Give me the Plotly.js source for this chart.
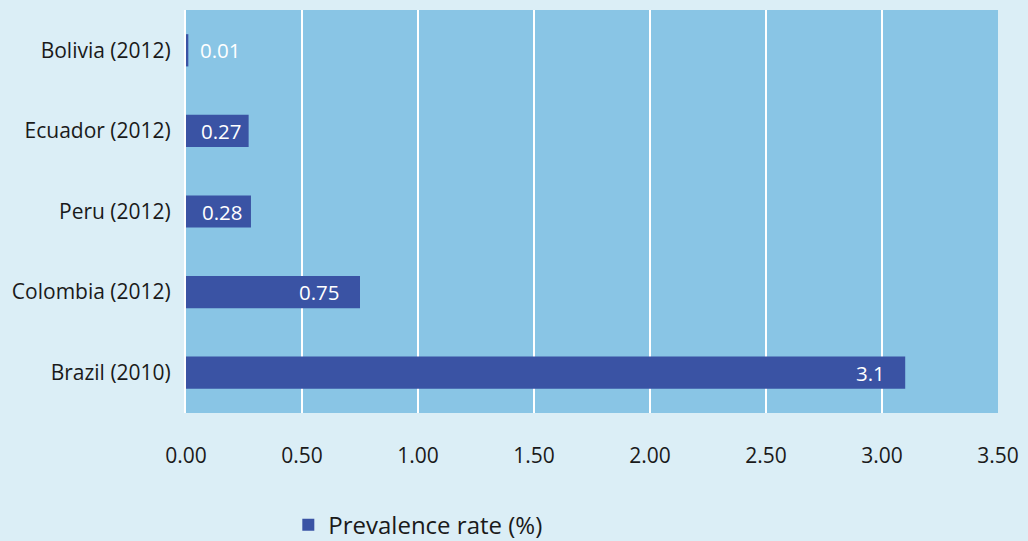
<!DOCTYPE html>
<html>
<head>
<meta charset="utf-8">
<script src="https://cdn.plot.ly/plotly-3.0.1.min.js"></script>
<style>
  html, body { margin: 0; padding: 0; background: #DBEEF6; }
  #chart { width: 1028px; height: 541px; }
</style>
</head>
<body>
<div id="chart"></div>
<script>
// Prevalence rate by country (survey year in brackets)
const countries = ["Brazil (2010)", "Colombia (2012)", "Peru (2012)", "Ecuador (2012)", "Bolivia (2012)"];
const prevalence = [3.1, 0.75, 0.28, 0.27, 0.01];
const labels = ["3.1", "0.75", "0.28", "0.27", "0.01"];
const xTicks = [0, 0.5, 1, 1.5, 2, 2.5, 3, 3.5];
const xTickText = ["0.00", "0.50", "1.00", "1.50", "2.00", "2.50", "3.00", "3.50"];

const FONT = "'Open Sans', Lato, sans-serif";

// Value labels: at the bar end for long bars, centred for short ones,
// and just past the end where the bar is too thin to hold text.
const annotations = prevalence.map((v, i) => {
  let a = { x: v, y: countries[i], xref: "x", yref: "y", showarrow: false,
            text: labels[i], font: { family: FONT, size: 20.5, color: "#ffffff" } };
  if (v >= 0.5) { a.xanchor = "right"; a.xshift = -18; }
  else if (v >= 0.1) { a.x = v / 2; a.xanchor = "center"; a.xshift = 4; }
  else { a.xanchor = "left"; a.xshift = 10; }
  return a;
});

const trace = {
  type: "bar",
  orientation: "h",
  x: prevalence,
  y: countries,
  name: "Prevalence rate (%)",
  marker: { color: "#3A53A4", line: { width: 0 } },
  width: 0.4,
  hoverinfo: "x+y"
};

const layout = {
  width: 1028,
  height: 541,
  paper_bgcolor: "#DBEEF6",
  plot_bgcolor: "#89C5E5",
  margin: { l: 186, r: 30, t: 10, b: 128, autoexpand: false },
  font: { family: FONT, size: 21, color: "#1a1a1a" },
  xaxis: {
    range: [0, 3.5],
    tickvals: xTicks,
    ticktext: xTickText,
    showgrid: true,
    gridcolor: "#ffffff",
    gridwidth: 1.5,
    zeroline: false,
    showline: false,
    ticks: "outside",
    ticklen: 24,
    tickcolor: "rgba(0,0,0,0)",
    tickfont: { family: FONT, size: 21, color: "#1a1a1a" },
    automargin: false,
    fixedrange: true
  },
  yaxis: {
    categoryorder: "array",
    categoryarray: countries,
    range: [-0.5, 4.5],
    showgrid: false,
    zeroline: false,
    showline: true,
    linecolor: "#ffffff",
    linewidth: 2,
    ticks: "outside",
    ticklen: 9,
    tickcolor: "rgba(0,0,0,0)",
    tickfont: { family: FONT, size: 21, color: "#1a1a1a" },
    automargin: false,
    fixedrange: true
  },
  showlegend: true,
  legend: {
    orientation: "h",
    x: 0.126,
    xanchor: "left",
    y: -0.278,
    yanchor: "middle",
    bgcolor: "rgba(0,0,0,0)",
    font: { family: FONT, size: 24, color: "#1a1a1a" }
  },
  bargap: 0.6,
  annotations: annotations
};

Plotly.newPlot("chart", [trace], layout, { displayModeBar: false, staticPlot: true });
</script>
</body>
</html>
